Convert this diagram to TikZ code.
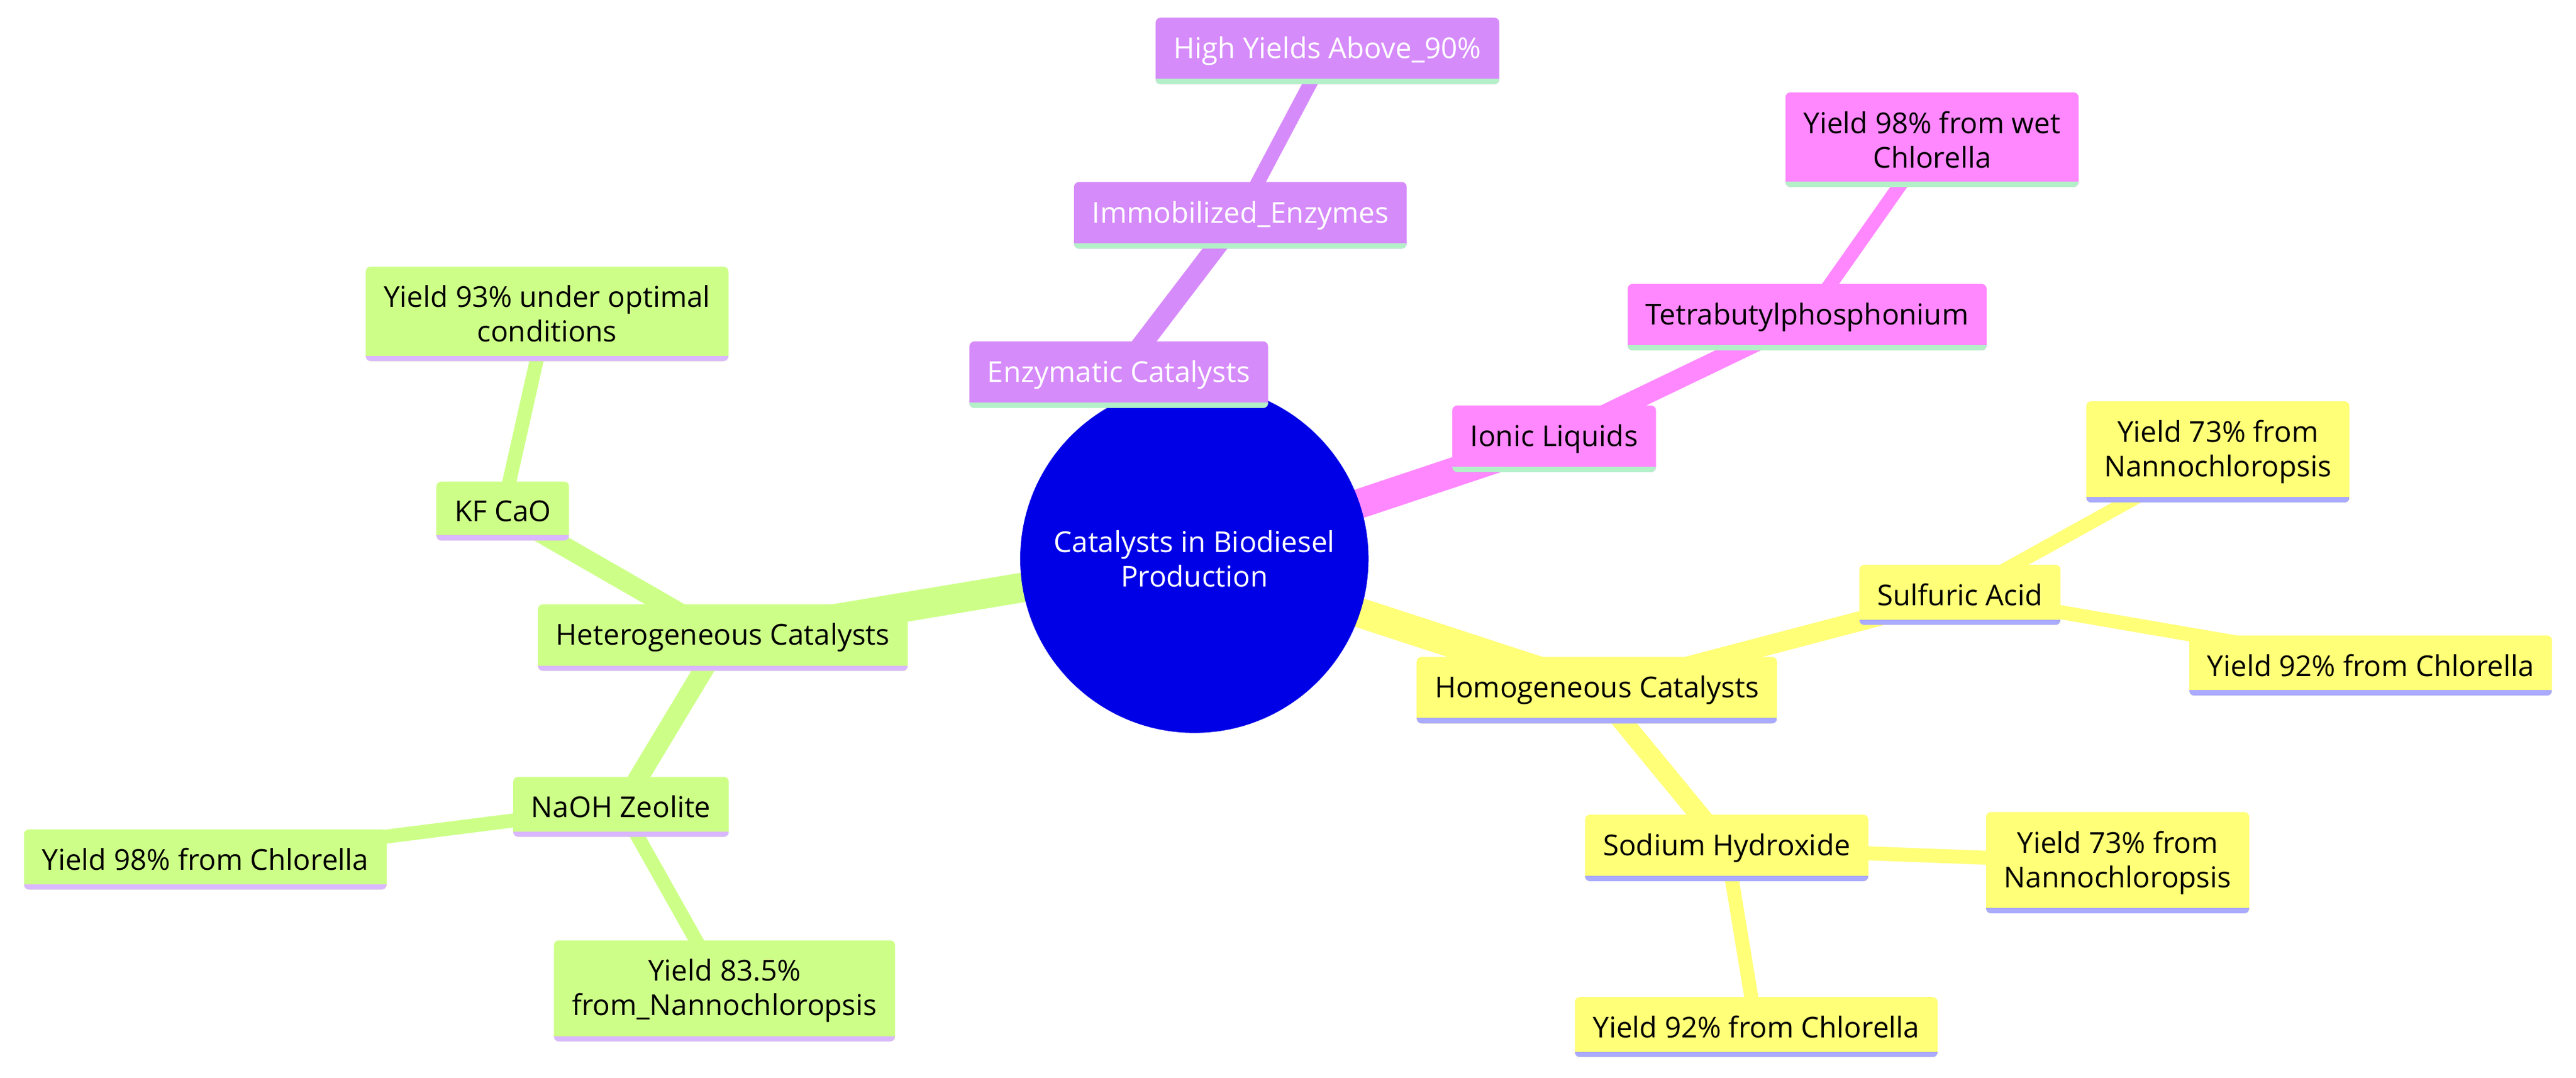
\documentclass[tikz,border=0pt]{standalone}
\usepackage{fontspec}
\setmainfont{Open Sans}
\usetikzlibrary{backgrounds}
\definecolor{cgreen}{HTML}{CDFF88}
\definecolor{cyellow}{HTML}{FFFF78}
\definecolor{cpink}{HTML}{FF88FF}
\definecolor{cpurple}{HTML}{D68BFA}
\definecolor{croot}{HTML}{0000E6}
\definecolor{lgreen}{HTML}{B3F0C8}
\definecolor{lpurple}{HTML}{DAB8FF}
\definecolor{llav}{HTML}{AAAAFF}
\tikzset{
  mm/.style={rectangle,rounded corners=3pt,inner xsep=11pt,inner ysep=11.5pt,align=center,font=\fontsize{17.5}{21}\selectfont,text=black,
    path picture={\draw[line width=3.5pt,#1] ([yshift=1.5pt]path picture bounding box.south west)--([yshift=1.5pt]path picture bounding box.south east);}},
  gn/.style={mm=lpurple,fill=cgreen},
  yn/.style={mm=llav,fill=cyellow},
  pn/.style={mm=lgreen,fill=cpink},
  un/.style={mm=lgreen,fill=cpurple,text=white},
  e1/.style={line width=18pt},
  e2/.style={line width=12pt},
  e3/.style={line width=8.5pt},
}
\begin{document}
\begin{tikzpicture}[x=1pt,y=-1pt]
\useasboundingbox (0,0) rectangle (1568,656);
\node[circle,fill=croot,text=white,minimum size=212pt,align=center,font=\fontsize{17.5}{21}\selectfont] (root) at (727,340) {Catalysts in Biodiesel\\Production};
% purple
\node[un] (enz) at (681,228) {Enzymatic Catalysts};
\node[un] (imm) at (755,131) {Immobilized\_Enzymes};
\node[un] (hy) at (808,31) {High Yields Above\_90\%};
% pink
\node[pn] (ion) at (946,267) {Ionic Liquids};
\node[pn] (tet) at (1100,193) {Tetrabutylphosphonium};
\node[pn] (wet) at (1176,85) {Yield 98\% from wet\\Chlorella};
% yellow
\node[yn] (hom) at (972,420) {Homogeneous Catalysts};
\node[yn] (sul) at (1193,362) {Sulfuric Acid};
\node[yn] (s73) at (1350,275) {Yield 73\% from\\Nannochloropsis};
\node[yn] (s92) at (1443,405) {Yield 92\% from Chlorella};
\node[yn] (sod) at (1051,516) {Sodium Hydroxide};
\node[yn] (n73) at (1289,525) {Yield 73\% from\\Nannochloropsis};
\node[yn] (n92) at (1069,625) {Yield 92\% from Chlorella};
% green
\node[gn] (het) at (440,388) {Heterogeneous Catalysts};
\node[gn] (kf) at (306,311) {KF CaO};
\node[gn] (k93) at (333,191) {Yield 93\% under optimal\\conditions};
\node[gn] (nz) at (378,491) {NaOH Zeolite};
\node[gn] (z98) at (125,523) {Yield 98\% from Chlorella};
\node[gn] (z83) at (441,603) {Yield 83.5\%\\from\_Nannochloropsis};
\begin{scope}[on background layer]
\draw[e1,cpurple] (root.center)--(enz.center);
\draw[e2,cpurple] (enz.center)--(imm.center);
\draw[e3,cpurple] (imm.center)--(hy.center);
\draw[e1,cpink] (root.center)--(ion.center);
\draw[e2,cpink] (ion.center)--(tet.center);
\draw[e3,cpink] (tet.center)--(wet.center);
\draw[e1,cyellow] (root.center)--(hom.center);
\draw[e2,cyellow] (hom.center)--(sul.center);
\draw[e3,cyellow] (sul.center)--(s73.center);
\draw[e3,cyellow] (sul.center)--(s92.center);
\draw[e2,cyellow] (hom.center)--(sod.center);
\draw[e3,cyellow] (sod.center)--(n73.center);
\draw[e3,cyellow] (sod.center)--(n92.center);
\draw[e1,cgreen] (root.center)--(het.center);
\draw[e2,cgreen] (het.center)--(kf.center);
\draw[e3,cgreen] (kf.center)--(k93.center);
\draw[e2,cgreen] (het.center)--(nz.center);
\draw[e3,cgreen] (nz.center)--(z98.center);
\draw[e3,cgreen] (nz.center)--(z83.center);
\end{scope}
\end{tikzpicture}
\end{document}
